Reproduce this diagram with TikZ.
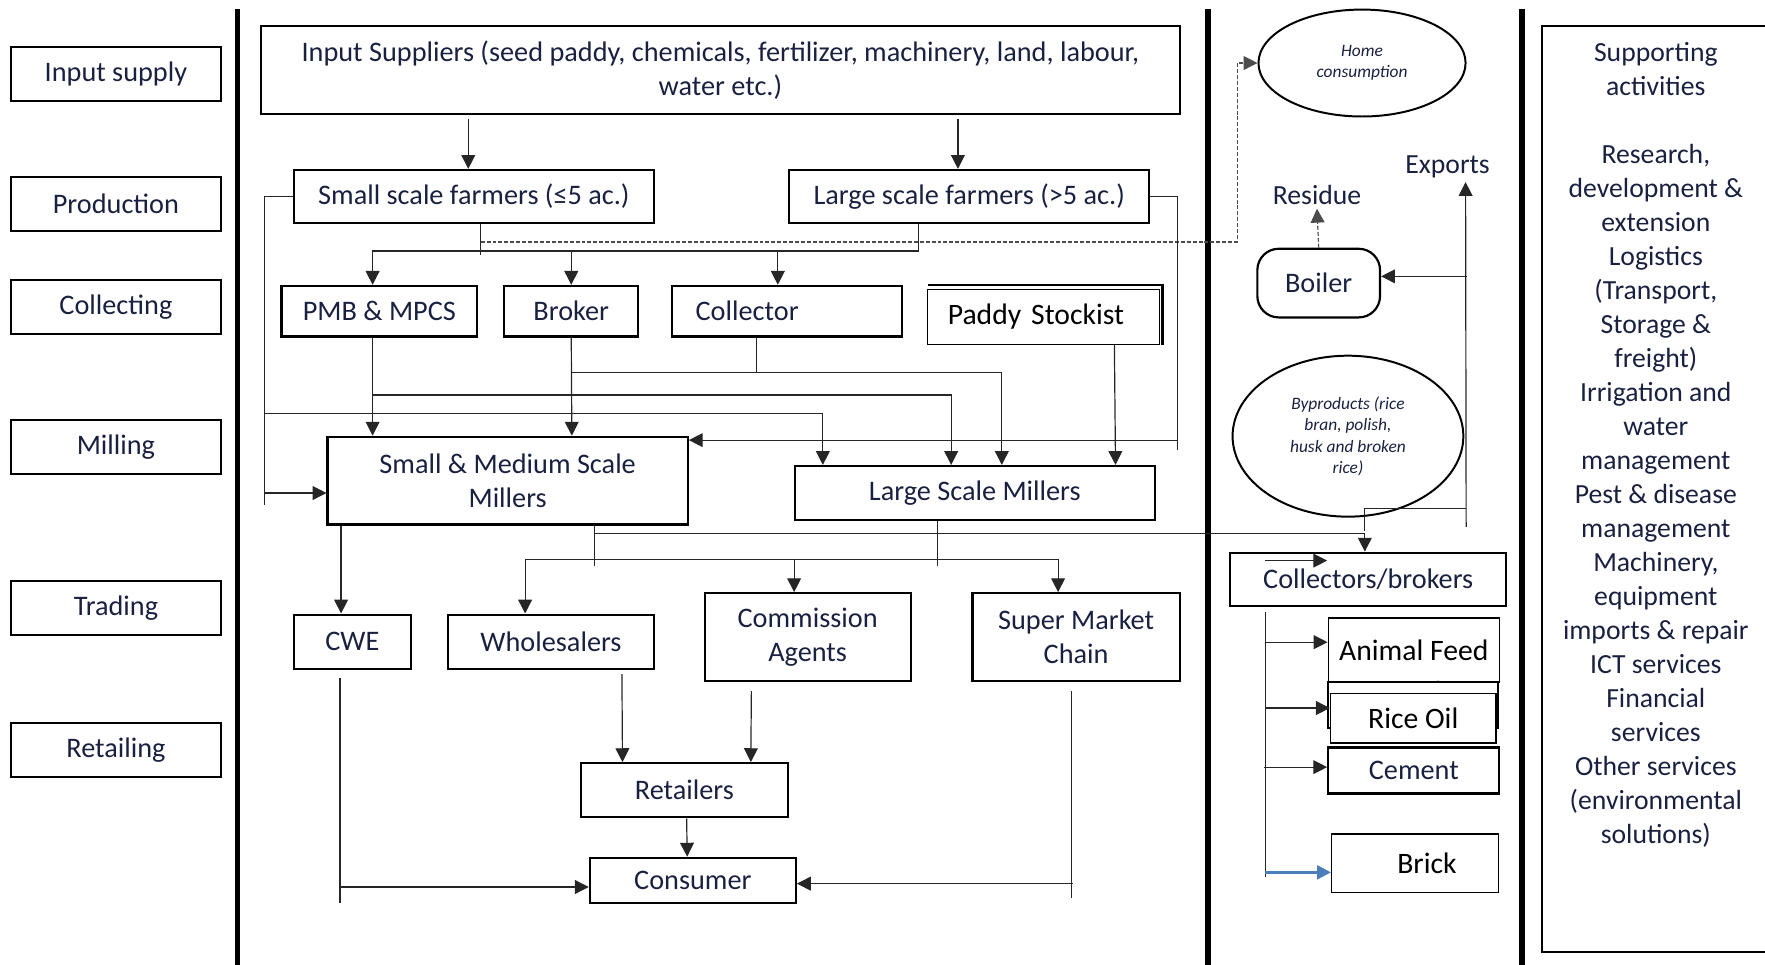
\documentclass[tikz,border=0pt]{standalone}
\usepackage{fontspec}
\setmainfont{Carlito}
\usetikzlibrary{arrows.meta,calc,shapes.geometric}
\definecolor{ink}{HTML}{1A2140}
\definecolor{wordblue}{HTML}{4A7EBB}

\begin{document}
\begin{tikzpicture}[x=0.02cm,y=-0.02cm,
    wh/.style 2 args={minimum width=#1*0.02cm,minimum height=#2*0.02cm},
    box/.style={draw,line width=1.1pt,inner sep=0pt,align=center,text=ink,
      font=\fontsize{14.3}{17.2}\selectfont},
    thinbox/.style={box,line width=0.7pt,fill=white,text=black,
      font=\fontsize{15}{18}\selectfont},
    oval/.style={draw,ellipse,line width=1pt,inner sep=0pt,align=center,text=ink,
      font=\fontsize{8.8}{10.8}\selectfont\itshape},
    lbl/.style={inner sep=2pt,text=ink,font=\fontsize{14}{17.2}\selectfont},
    ln/.style={line width=0.6pt,black!85},
    arr/.style={ln,-{Triangle[length=7pt,width=7pt]}},
    dsh/.style={arr,black!70,dash pattern=on 2pt off 1pt},
    barr/.style={line width=1.3pt,wordblue,-{Triangle[length=7pt,width=7pt]}},
    bar/.style={line width=2.8pt}]
  \useasboundingbox (0,0) rectangle (1568,857);
  \draw[bar] (211,8) -- (211,857);
  \draw[bar] (1073,8) -- (1073,857);
  \draw[bar] (1352,8) -- (1352,857);
  \foreach [count=\i] \stage/\y in {Input supply/66, Production/181, Collecting/273,
      Milling/397, Trading/540, Retailing/666} {
    \node[box,wh={186}{48}] (s\i) at (103,\y) {\stage};
  }

  \node[box,wh={816}{78}] (inp) at (640,62) {Input Suppliers (seed paddy, chemicals, fertilizer, machinery, land, labour,\\water etc.)};
  \node[box,wh={320}{47}] (smf) at (421,174.5) {Small scale farmers (≤5 ac.)};
  \node[box,wh={320}{47}] (lsf) at (861,174.5) {Large scale farmers (>5 ac.)};
  \node[box,wh={174}{45}] (pmb) at (337,276.5) {PMB \& MPCS};
  \node[box,wh={119}{45}] (brk) at (507.5,276.5) {Broker};
  \node[box,wh={204}{45},text width=3.24cm,align=left] (col) at (699,276.5) {Collector};
  \node[thinbox,wh={206}{49},text width=3.4cm,align=left] (ps) at (927,281.5) {Paddy Stockist};
  \draw[line width=1.2pt] ($(ps.north west)+(1,-3)$) -- ($(ps.north east)+(2,-3)$) -- ($(ps.south east)+(2,0)$);
  \node[box,wh={320}{78}] (smm) at (451,427) {Small \& Medium Scale\\Millers};
  \node[box,wh={320}{48}] (lsm) at (866,438) {Large Scale Millers};
  \node[box,wh={104}{48}] (cwe) at (313,570) {CWE};
  \node[box,wh={183}{48}] (whs) at (489.5,570) {Wholesalers};
  \node[box,wh={183}{78}] (ca) at (717.5,566) {Commission\\Agents};
  \node[box,wh={184}{78}] (smc) at (956,566) {Super Market\\Chain};
  \node[box,wh={184}{48}] (ret) at (608,702) {Retailers};
  \node[box,wh={183}{40}] (cons) at (615.5,782) {Consumer};

  \node[oval,wh={184}{95}] (home) at (1210,56) {Home\\consumption};
  \node[lbl] (exp) at (1286,148) {Exports};
  \node[lbl] (res) at (1170,173) {Residue};
  \node[box,wh={109}{61},rounded corners=0.38cm] (boil) at (1171.5,251.5) {Boiler};
  \node[oval,wh={205}{143}] (byp) at (1197.5,387.5) {Byproducts (rice\\bran, polish,\\husk and broken\\rice)};
  \node[box,wh={245}{47}] (cb) at (1215.5,514.5) {Collectors/brokers};
  \node[thinbox,wh={152}{57}] (af) at (1256,577.5) {Animal Feed};
  \begin{scope}
    \clip (1182,599) rectangle (1329,605);
    \node[lbl] (fd) at (1256,614) {Feed};
  \end{scope}
  \draw[line width=1.1pt] (1180,606) rectangle (1331,647);
  \node[thinbox,wh={147}{44}] (ro) at (1255.5,638) {Rice Oil};
  \node[box,wh={152}{41},fill=white] (cem) at (1256,684.5) {Cement};
  \node[thinbox,wh={148}{52},text width=1.48cm,align=right] (brick) at (1257,767) {Brick};

  \node[box,wh={206}{823},anchor=north west] (sup) at (1369,22) {};
  \node[lbl,anchor=north,align=center,inner sep=0pt] (supt) at (1471,37) {Supporting\\activities\\[17.2pt]Research,\\development \&\\extension\\Logistics\\(Transport,\\Storage \&\\freight)\\Irrigation and\\water\\management\\Pest \& disease\\management\\Machinery,\\equipment\\imports \& repair\\ICT services\\Financial\\services\\Other services\\(environmental\\solutions)};

  \draw[arr] ($(smf.north)+(-5,-44)$) -- ($(smf.north)+(-5,0)$);
  \draw[arr] ($(lsf.north)+(-10,-44)$) -- ($(lsf.north)+(-10,0)$);
  \draw[ln] ($(smf.south)+(6,0)$) -- ++(0,28);
  \draw[arr] ($(lsf.south)+(-45,0)$) |- ($(pmb.north)+(-6,-30)$) -- ($(pmb.north)+(-6,0)$);
  \draw[arr] ($(brk.north)+(0,-30)$) -- (brk.north);
  \draw[arr] ($(col.north)+(-8,-30)$) -- ($(col.north)+(-8,0)$);
  \draw[dsh] ($(smf.south)+(6,16)$) -| ($(home.west)+(-18,0)$) -- (home.west);

  \draw[ln] (smf.west) -| ($(smm.west)+(-55,22)$);
  \draw[arr] ($(smm.west)+(-55,11)$) -- ($(smm.west)+(0,11)$);
  \draw[arr] ($(smm.west)+(-55,-60)$) -| ($(lsm.north)+(-135,0)$);
  \draw[arr] ($(pmb.south)+(-6,0)$) -- ($(smm.north)+(-120,0)$);
  \draw[arr] ($(pmb.south)+(-6,51)$) -| ($(lsm.north)+(-21,0)$);
  \draw[arr] (brk.south) -- ($(smm.north)+(57,0)$);
  \draw[arr] ($(brk.south)+(0,31)$) -| ($(lsm.north)+(24,0)$);
  \draw[ln] ($(col.south)+(-27,0)$) -- ++(0,31);
  \draw[arr] ($(ps.south)+(63,0)$) -- ($(lsm.north)+(125,0)$);
  \draw[ln] (lsf.east) -| ($(smm.east)+(434,-27)$);
  \draw[arr] ($(smm.east)+(434,-36)$) -- ($(smm.east)+(0,-36)$);

  \draw[arr] ($(smm.south)+(-148,0)$) -- ($(cwe.north)+(-10,0)$);
  \draw[ln] ($(smm.south)+(77,0)$) -- ++(0,36);
  \draw[arr] ($(smm.south)+(77,7)$) -| ($(cb.north)+(-3,0)$);
  \draw[ln] ($(lsm.south)+(-33,0)$) -- ++(0,40);
  \draw[{Triangle[length=7pt,width=7pt]}-{Triangle[length=7pt,width=7pt]},ln] ($(whs.north)+(-23,0)$) |- ($(smc.north)+(-16,-29)$) -- ($(smc.north)+(-16,0)$);
  \draw[arr] ($(ca.north)+(-12,-29)$) -- ($(ca.north)+(-12,0)$);
  \draw[arr] ($(whs.south)+(63,4)$) -- ($(ret.north)+(-55,0)$);
  \draw[arr] ($(ca.south)+(-50,8)$) -- ($(ret.north)+(59,0)$);
  \draw[arr] ($(ret.south)+(2,0)$) -- ($(cons.north)+(-5,0)$);
  \draw[ln] ($(cwe.south)+(-11,7)$) -- ++(0,200);
  \draw[arr] ($(cons.west)+(-222,6)$) -- ($(cons.west)+(0,6)$);
  \draw[ln] ($(smc.south)+(-4,8)$) -- ++(0,184);
  \draw[arr] ($(cons.east)+(245,3)$) -- ($(cons.east)+(0,3)$);

  \draw[arr] ($(cb.north)+(87,-22)$) -- ($(exp.south)+(16,0)$);
  \draw[arr] ($(boil.east)+(76,-6)$) -- ($(boil.east)+(0,-6)$);
  \draw[ln] ($(cb.north)+(-3,-18)$) |- ($(cb.north)+(87,-38)$);
  \draw[dsh] (boil.north) -- (res.south);
  \draw[arr] ($(cb.north west)+(32,8)$) -- ++(55,0);
  \draw[ln] ($(cb.south)+(-91,5)$) -- ++(0,235);
  \draw[arr] ($(af.west)+(-56,-7)$) -- ($(af.west)+(0,-7)$);
  \draw[arr] ($(ro.west)+(-57,-9)$) -- ($(ro.west)+(0,-9)$);
  \draw[arr] ($(cem.west)+(-56,-3)$) -- ($(cem.west)+(0,-3)$);
  \draw[barr] ($(brick.west)+(-59,8)$) -- ($(brick.west)+(0,8)$);
\end{tikzpicture}
\end{document}
